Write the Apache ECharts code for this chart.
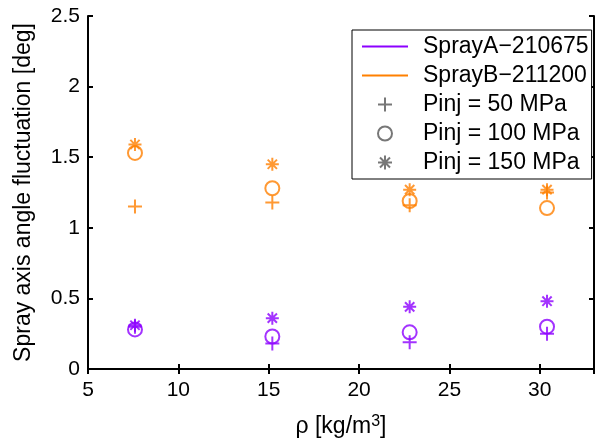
<!DOCTYPE html>
<html>
<head>
<meta charset="utf-8">
<script src="https://cdn.jsdelivr.net/npm/echarts@6/dist/echarts.min.js"></script>
<style>
  html, body { margin: 0; padding: 0; background: #fff; }
  #chart { width: 597px; height: 444px; }
</style>
</head>
<body>
<div id="chart"></div>
<script>
// Ambient gas density [kg/m3]
const densities = [7.6, 15.2, 22.8, 30.4];

// Spray axis angle fluctuation [deg], per injector and injection pressure
const sprayA_50 = [0.30, 0.18, 0.19, 0.25];
const sprayA_100 = [0.28, 0.23, 0.26, 0.30];
const sprayA_150 = [0.31, 0.36, 0.44, 0.48];
const sprayB_50 = [1.15, 1.18, 1.16, 1.25];
const sprayB_100 = [1.53, 1.28, 1.19, 1.14];
const sprayB_150 = [1.59, 1.45, 1.27, 1.27];

const injectorNames = ['SprayA\u2212210675', 'SprayB\u2212211200'];
const pressureNames = ['Pinj = 50 MPa', 'Pinj = 100 MPa', 'Pinj = 150 MPa'];

const PURPLE = '#8c00ff';
const ORANGE = '#ff8000';
const GREY = '#555555';
const FONT = 'Liberation Sans, Arial, Helvetica, sans-serif';

const PLUS = 'path://M0,7L14,7M7,0L7,14';
const STAR = 'path://M7,0L7,14M0,7L14,7M2,2L12,12M12,2L2,12';
// thin bar used as the line sample in the legend
const LINE_ICON = 'path://M0,6.1L46,6.1L46,7.9L0,7.9Z';
const markers = [
  { symbol: PLUS, size: 14 },
  { symbol: 'circle', size: 14 },
  { symbol: STAR, size: 13 }
];

function pairs(values) {
  return densities.map((x, i) => [x, values[i]]);
}

function markerSeries(values, color, m) {
  return {
    type: 'scatter',
    data: pairs(values),
    symbol: m.symbol,
    symbolSize: m.size,
    itemStyle: { color: 'rgba(0,0,0,0)', borderColor: color, borderWidth: 2 },
    emphasis: { disabled: true },
    z: 3
  };
}

const series = [
  // legend-only entries for the two injectors
  { name: injectorNames[0], type: 'line', data: [], symbol: 'none',
    lineStyle: { color: PURPLE, width: 1.8 }, itemStyle: { color: PURPLE } },
  { name: injectorNames[1], type: 'line', data: [], symbol: 'none',
    lineStyle: { color: ORANGE, width: 1.8 }, itemStyle: { color: ORANGE } },
  // legend-only entries for the marker shapes
  ...pressureNames.map((n, i) => ({
    name: n, type: 'scatter', data: [], symbol: markers[i].symbol, symbolSize: markers[i].size,
    itemStyle: { color: 'rgba(0,0,0,0)', borderColor: GREY, borderWidth: 1.8 }
  })),
  markerSeries(sprayA_50, PURPLE, markers[0]),
  markerSeries(sprayA_100, PURPLE, markers[1]),
  markerSeries(sprayA_150, PURPLE, markers[2]),
  markerSeries(sprayB_50, ORANGE, markers[0]),
  markerSeries(sprayB_100, ORANGE, markers[1]),
  markerSeries(sprayB_150, ORANGE, markers[2])
];

const axisLine = { show: true, lineStyle: { color: '#000', width: 2 } };
const axisTick = { show: true, inside: true, length: 5, lineStyle: { color: '#000', width: 2 } };

const chart = echarts.init(document.getElementById('chart'), null, { renderer: 'canvas' });
chart.setOption({
  animation: false,
  backgroundColor: '#fff',
  textStyle: { fontFamily: FONT },
  grid: { left: 88, right: -6, top: 16, bottom: 75, containLabel: false },
  xAxis: [
    {
      type: 'value', min: 5, max: 33, interval: 5, position: 'bottom',
      axisLine, axisTick, splitLine: { show: false },
      axisLabel: {
        color: '#000', fontSize: 21, fontFamily: FONT, margin: 11,
        formatter: v => (v % 5 === 0 ? String(v) : '')
      },
      name: '\u03c1 [kg/m{sup|3}]',
      nameLocation: 'middle', nameGap: 45,
      nameTextStyle: {
        color: '#000', fontSize: 23, fontFamily: FONT,
        rich: { sup: { fontSize: 16, verticalAlign: 'top', padding: [0, 0, 10, 0], color: '#000', fontFamily: FONT } }
      }
    },
    {
      type: 'value', min: 5, max: 33, interval: 5, position: 'top',
      axisLine, axisTick, splitLine: { show: false }, axisLabel: { show: false }
    }
  ],
  yAxis: [
    {
      type: 'value', min: 0, max: 2.5, interval: 0.5, position: 'left',
      axisLine, axisTick, splitLine: { show: false },
      axisLabel: { color: '#000', fontSize: 21, fontFamily: FONT, margin: 8 },
      name: 'Spray axis angle fluctuation [deg]',
      nameLocation: 'middle', nameGap: 53,
      nameTextStyle: { color: '#000', fontSize: 23, fontFamily: FONT }
    },
    {
      type: 'value', min: 0, max: 2.5, interval: 0.5, position: 'right',
      axisLine, axisTick, splitLine: { show: false }, axisLabel: { show: false }
    }
  ],
  legend: {
    show: true,
    orient: 'vertical',
    left: 352, top: 30,
    padding: [5, 3, 5, 10],
    backgroundColor: '#fff',
    borderColor: '#000', borderWidth: 1,
    itemWidth: 46, itemHeight: 14, itemGap: 6,
    symbolKeepAspect: true,
    selectedMode: false,
    textStyle: { color: '#000', fontSize: 23, lineHeight: 23, fontFamily: FONT, padding: [0, 0, 0, 10] },
    data: [
      { name: injectorNames[0], icon: LINE_ICON, itemStyle: { color: PURPLE, borderWidth: 0 } },
      { name: injectorNames[1], icon: LINE_ICON, itemStyle: { color: ORANGE, borderWidth: 0 } },
      ...pressureNames
    ]
  },
  series
});
</script>
</body>
</html>
